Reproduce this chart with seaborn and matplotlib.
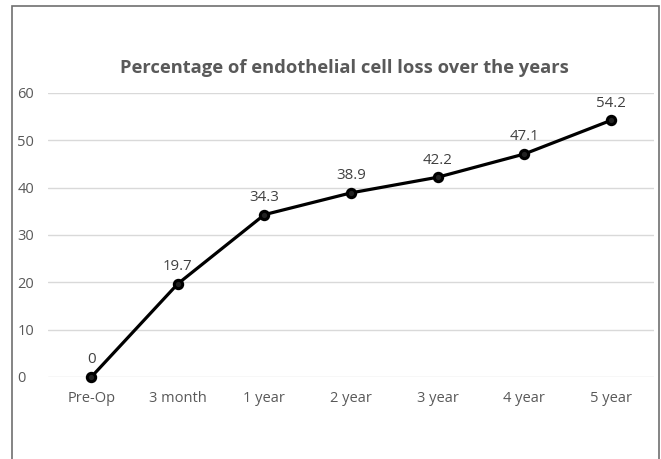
import matplotlib
matplotlib.use("Agg")
import matplotlib.pyplot as plt
import seaborn as sns
import pandas as pd
from matplotlib.patches import Rectangle

categories = ["Pre-Op", "3 month", "1 year", "2 year", "3 year", "4 year", "5 year"]
loss_pct = [0, 19.7, 34.3, 38.9, 42.2, 47.1, 54.2]
y_ticks = [0, 10, 20, 30, 40, 50, 60]
title = "Percentage of endothelial cell loss over the years"

sns.set_theme(style="white")
plt.rcParams['font.family'] = ['Open Sans', 'DejaVu Sans']

df = pd.DataFrame({"cat": categories, "x": range(len(categories)), "val": loss_pct})

W, H = 661, 459
fig = plt.figure(figsize=(W / 100, H / 100), dpi=100)
fig.patch.set_facecolor("white")
ax = fig.add_axes([48 / W, 1 - 377 / H, (654 - 48) / W, (377 - 93) / H])

sns.lineplot(data=df, x="x", y="val", ax=ax, color="black", linewidth=2.3,
             marker="o", markersize=6, markerfacecolor="#222222",
             markeredgecolor="black", markeredgewidth=2.2, clip_on=False, zorder=5)

ax.set_xlim(-0.5, len(categories) - 0.5)
ax.set_ylim(0, 60)
ax.set_yticks(y_ticks)
ax.set_xticks(range(len(categories)))
ax.set_xticklabels(categories)
ax.set_xlabel("")
ax.set_ylabel("")
for s in ax.spines.values():
    s.set_visible(False)
ax.grid(axis="y", color="#d9d9d9", linewidth=1.0)
ax.set_axisbelow(True)
ax.tick_params(axis="both", length=0, labelsize=10.5, labelcolor="#595959")
ax.tick_params(axis="x", pad=10)
ax.tick_params(axis="y", pad=22)
for lbl in ax.get_yticklabels():
    lbl.set_horizontalalignment("left")

for i, v in enumerate(loss_pct):
    ax.annotate(f"{v:g}", (i, v), xytext=(0, 7), textcoords="offset points",
                ha="center", va="bottom", fontsize=10.8, color="#404040")

fig.text(344 / W, 1 - 68 / H, title, ha="center", va="center",
         fontsize=13.2, fontweight="bold", color="#595959")

fig.patches.append(Rectangle((12 / W, -0.1), (659 - 12) / W, 1.1 - 6 / H,
                             transform=fig.transFigure, fill=False,
                             edgecolor="#6f6f6f", linewidth=1.2))

fig.savefig("out.png", dpi=100)
